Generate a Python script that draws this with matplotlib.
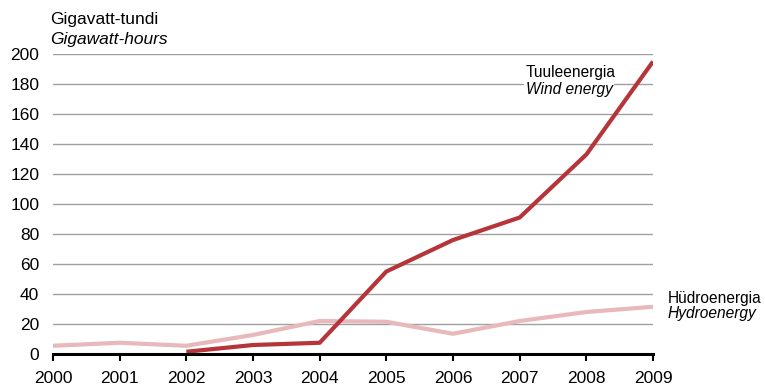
import numpy as np
import matplotlib.pyplot as plt

plt.rcParams['font.family'] = ['Liberation Sans', 'DejaVu Sans']

#%% Data
years = [2000, 2001, 2002, 2003, 2004, 2005, 2006, 2007, 2008, 2009]
wind_years = [2002, 2003, 2004, 2005, 2006, 2007, 2008, 2009]
wind = [1.5, 6, 7.5, 55, 76, 91, 133, 195]
hydro = [5.5, 7.5, 5.5, 12.7, 22, 21.5, 13.5, 22, 28, 31.5]
yticks = list(range(0, 201, 20))

wind_col = '#b5353a'
hydro_col = '#e8b8ba'

#%% Plot
fig = plt.figure(figsize=(7.65, 3.88), dpi=100)
ax = fig.add_axes([0.0693, 0.0876, 0.7843, 0.7732])

ax.plot(years, hydro, color=hydro_col, lw=3, solid_capstyle='butt', zorder=3)
ax.plot(wind_years, wind, color=wind_col, lw=3, solid_capstyle='butt', zorder=4)

ax.set_xlim(2000, 2009)
ax.set_ylim(0, 200)
ax.set_xticks(years)
ax.set_yticks(yticks)
ax.yaxis.grid(True, color='#a0a0a0', lw=1)
ax.set_axisbelow(True)
for s in ['top', 'right', 'left']:
    ax.spines[s].set_visible(False)
ax.spines['bottom'].set_linewidth(2.2)
ax.spines['bottom'].set_color('black')
ax.spines['bottom'].set_zorder(5)
ax.tick_params(axis='y', length=0, labelsize=12.5, pad=10)
ax.tick_params(axis='x', length=5, width=1.5, direction='out', labelsize=12.5, pad=7)

# axis unit label
fig.text(50 / 765, 1 - 24 / 388, 'Gigavatt-tundi', fontsize=12.5, ha='left', va='baseline')
fig.text(50 / 765, 1 - 44 / 388, 'Gigawatt-hours', fontsize=12.5, style='italic',
         ha='left', va='baseline')

# series labels
ax.text(2007.09, 184.5, 'Tuuleenergia', fontsize=11.2, ha='left', va='baseline',
        bbox=dict(facecolor='white', edgecolor='none', pad=1), zorder=2)
ax.text(2007.09, 173.3, 'Wind energy', fontsize=11.2, style='italic', ha='left', va='baseline',
        bbox=dict(facecolor='white', edgecolor='none', pad=1), zorder=2)
fig.text(668 / 765, 1 - 303 / 388, 'Hüdroenergia', fontsize=11.2, ha='left', va='baseline')
fig.text(668 / 765, 1 - 318 / 388, 'Hydroenergy', fontsize=11.2, style='italic',
         ha='left', va='baseline')

fig.savefig('out.png', dpi=100)
